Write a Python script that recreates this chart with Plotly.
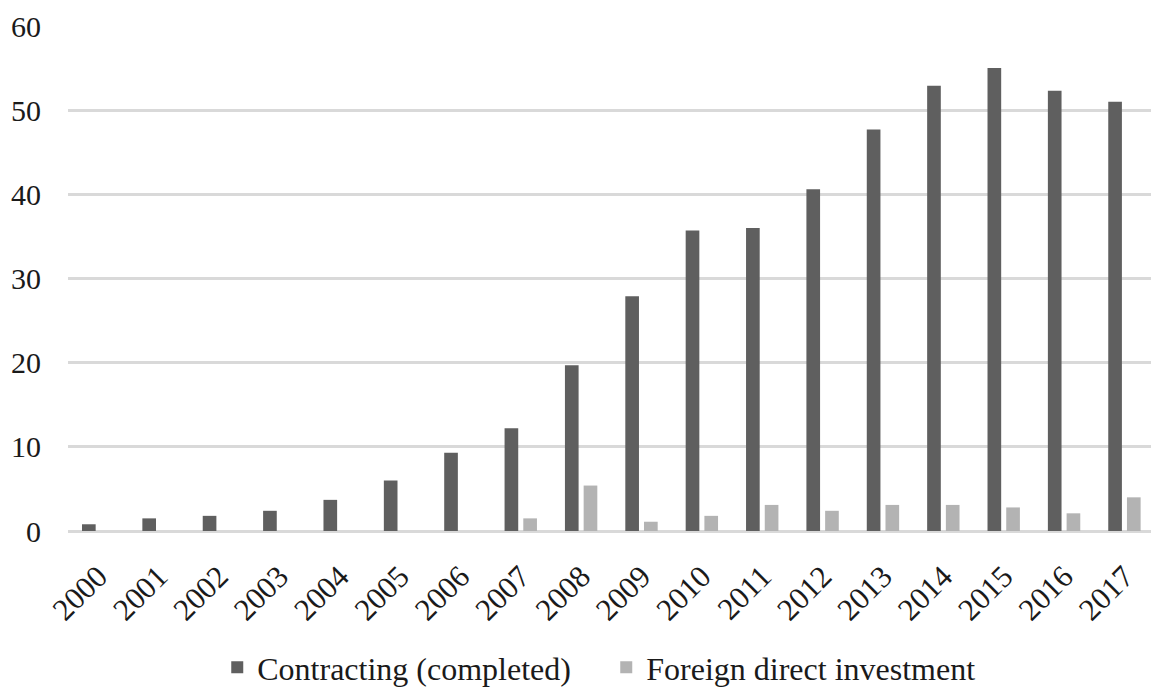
import plotly.graph_objects as go

years = [str(y) for y in range(2000, 2018)]
contracting = [0.8, 1.5, 1.8, 2.4, 3.7, 6.0, 9.3, 12.2, 19.7, 27.9, 35.7, 36.0,
               40.6, 47.7, 52.9, 55.0, 52.3, 51.0]
fdi = [None, None, None, None, None, None, None, 1.5, 5.4, 1.1, 1.8, 3.1,
       2.4, 3.1, 3.1, 2.8, 2.1, 4.0]
y_ticks = [0, 10, 20, 30, 40, 50, 60]

FONT = "Liberation Serif"

fig = go.Figure()
fig.add_trace(go.Bar(x=years, y=contracting, name="Contracting (completed)",
                     marker=dict(color="#5f5f5f", line=dict(width=0))))
fig.add_trace(go.Bar(x=years, y=fdi, name="Foreign direct investment",
                     marker=dict(color="#b3b3b3", line=dict(width=0))))

fig.update_layout(
    width=1151, height=687,
    margin=dict(l=68, r=0, t=26, b=156, pad=0, autoexpand=False),
    paper_bgcolor="white", plot_bgcolor="white",
    barmode="group", bargap=0.38, bargroupgap=0.27,
    font=dict(family=FONT, color="#1a1a1a"),
    showlegend=True,
    legend=dict(orientation="h", x=0.497, xanchor="center", y=-0.27, yanchor="middle",
                font=dict(family=FONT, size=32, color="#1a1a1a"),
                itemwidth=30, entrywidth=344, traceorder="normal",
                bgcolor="rgba(0,0,0,0)"),
)
fig.update_xaxes(
    type="category", range=[-0.5, 17.44], automargin=False,
    tickangle=-45, tickfont=dict(family=FONT, size=31, color="#1a1a1a"),
    showgrid=False, showline=False, zeroline=False, ticks="",
    ticklabelstandoff=20,
)
fig.update_yaxes(
    range=[0, 60], tickvals=y_ticks, ticktext=[str(v) for v in y_ticks],
    automargin=False,
    tickfont=dict(family=FONT, size=30, color="#1a1a1a"),
    showgrid=True, gridcolor="#d9d9d9", gridwidth=2.5,
    zeroline=True, zerolinecolor="#d9d9d9", zerolinewidth=2.5,
    showline=False, ticks="", ticklabelstandoff=26,
)

fig.write_html("out.html")
